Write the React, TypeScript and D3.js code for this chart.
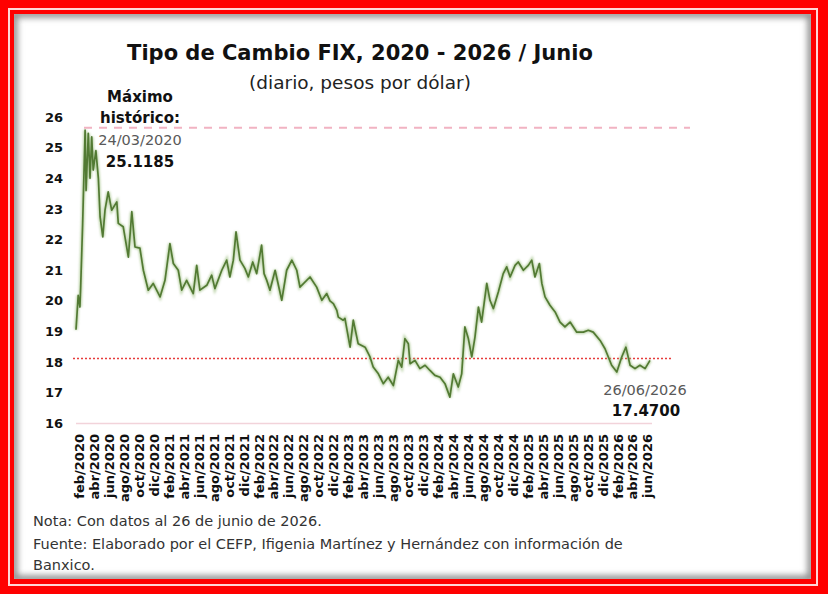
import React from 'react';
import * as d3 from 'd3';

// Tipo de cambio FIX (pesos por dólar), lecturas del gráfico
const fechas = [
  '2020-02-03', '2020-02-12', '2020-02-19', '2020-02-22', '2020-03-01', '2020-03-11', '2020-03-15', '2020-03-24',
  '2020-03-31', '2020-04-07', '2020-04-13', '2020-04-24', '2020-05-04', '2020-05-11', '2020-05-22', '2020-05-31',
  '2020-06-13', '2020-06-27', '2020-07-18', '2020-07-24', '2020-08-13', '2020-09-03', '2020-09-17', '2020-09-30',
  '2020-10-20', '2020-11-03', '2020-11-23', '2020-12-13', '2021-01-10', '2021-01-30', '2021-02-19', '2021-03-05',
  '2021-03-25', '2021-04-08', '2021-04-28', '2021-05-25', '2021-06-08', '2021-06-21', '2021-07-19', '2021-08-08',
  '2021-08-21', '2021-09-18', '2021-10-08', '2021-10-21', '2021-11-04', '2021-11-15', '2021-12-01', '2021-12-21',
  '2022-01-04', '2022-01-22', '2022-02-07', '2022-02-27', '2022-03-09', '2022-03-20', '2022-04-02', '2022-04-23',
  '2022-05-20', '2022-06-09', '2022-06-30', '2022-07-20', '2022-08-02', '2022-09-12', '2022-10-09', '2022-10-30',
  '2022-11-19', '2022-12-02', '2022-12-16', '2022-12-30', '2023-01-05', '2023-01-25', '2023-02-01', '2023-02-22',
  '2023-03-07', '2023-03-27', '2023-04-24', '2023-05-14', '2023-05-27', '2023-06-17', '2023-07-07', '2023-07-27',
  '2023-08-17', '2023-09-06', '2023-09-20', '2023-10-03', '2023-10-17', '2023-10-24', '2023-11-13', '2023-12-03',
  '2023-12-24', '2024-01-13', '2024-02-02', '2024-02-23', '2024-03-14', '2024-04-03', '2024-04-17', '2024-05-07',
  '2024-05-21', '2024-06-03', '2024-06-17', '2024-07-01', '2024-07-14', '2024-07-28', '2024-08-10', '2024-08-31',
  '2024-09-13', '2024-09-27', '2024-10-17', '2024-11-06', '2024-11-20', '2024-12-04', '2024-12-24', '2025-01-06',
  '2025-01-27', '2025-02-16', '2025-03-02', '2025-03-15', '2025-04-02', '2025-04-12', '2025-04-25', '2025-05-15',
  '2025-06-05', '2025-06-25', '2025-07-15', '2025-08-05', '2025-09-01', '2025-09-28', '2025-10-18', '2025-11-07',
  '2025-12-05', '2025-12-25', '2026-01-21', '2026-02-11', '2026-03-03', '2026-03-20', '2026-04-06', '2026-04-26',
  '2026-05-16', '2026-06-06', '2026-06-26',
];

const tipoCambio = [
  19.06, 20.18, 19.8, 20.45, 22.5, 25.57, 23.6, 25.47,
  24.0, 25.35, 24.27, 24.9, 24.0, 22.74, 22.09, 22.96,
  23.56, 22.96, 23.23, 22.53, 22.42, 21.43, 22.91, 21.76,
  21.72, 21.0, 20.35, 20.57, 20.13, 20.67, 21.87, 21.22,
  21.0, 20.35, 20.67, 20.24, 21.16, 20.35, 20.51, 20.84,
  20.4, 21.0, 21.33, 20.78, 21.33, 22.25, 21.33, 21.06,
  20.78, 21.27, 20.89, 21.82, 20.89, 20.67, 20.35, 21.0,
  20.02, 21.0, 21.33, 21.0, 20.45, 20.78, 20.45, 20.02,
  20.24, 20.0, 19.91, 19.69, 19.47, 19.37, 19.43, 18.49,
  19.37, 18.6, 18.49, 18.17, 17.84, 17.62, 17.3, 17.51,
  17.24, 18.06, 17.84, 18.77, 18.6, 17.95, 18.06, 17.79,
  17.9, 17.73, 17.57, 17.51, 17.3, 16.86, 17.62, 17.19,
  17.62, 19.15, 18.77, 18.17, 18.82, 19.8, 19.31, 20.57,
  20.02, 19.75, 20.29, 20.89, 21.11, 20.78, 21.16, 21.27,
  21.0, 21.16, 21.33, 20.78, 21.22, 20.57, 20.13, 19.86,
  19.64, 19.31, 19.15, 19.31, 18.98, 18.98, 19.04, 18.98,
  18.71, 18.44, 17.9, 17.68, 18.17, 18.49, 17.9, 17.79,
  17.9, 17.79, 18.06,
];

const yTicks = [16, 17, 18, 19, 20, 21, 22, 23, 24, 25, 26];
const meses = ['ene', 'feb', 'mar', 'abr', 'may', 'jun', 'jul', 'ago', 'sep', 'oct', 'nov', 'dic'];

const nivelMaximo = 25.65; // línea del máximo histórico, como se ve en la imagen
const nivelActual = 18.12; // línea punteada roja

const W = 828;
const H = 594;
const FONT = "'DejaVu Sans', sans-serif";

export default function App() {
  const parse = d3.timeParse('%Y-%m-%d');
  const data = fechas.map((f, i) => ({ date: parse(f) as Date, value: tipoCambio[i] }));

  const x = d3.scaleTime().domain([new Date(2020, 1, 3), new Date(2026, 5, 26)]).range([76, 650]);
  const y = d3.scaleLinear().domain([16, 26]).range([423.5, 117]);

  const line = d3
    .line<{ date: Date; value: number }>()
    .x(d => x(d.date))
    .y(d => y(d.value));

  const monthTicks = d3.timeMonth.range(new Date(2020, 1, 1), new Date(2026, 6, 1), 2);

  return (
    <svg width={W} height={H} style={{ position: 'absolute', left: 0, top: 0 }} fontFamily={FONT}>
      <defs>
        <filter id="blur3" x="-10%" y="-10%" width="120%" height="120%">
          <feGaussianBlur stdDeviation="3" />
        </filter>
        <filter id="glow" x="-5%" y="-5%" width="110%" height="110%">
          <feGaussianBlur stdDeviation="1.2" />
        </filter>
        <clipPath id="panel">
          <rect x={14} y={14} width={797} height={565} />
        </clipPath>
      </defs>

      {/* marco rojo */}
      <rect x={0} y={0} width={W} height={H} fill="#ff0000" />
      <rect x={9} y={9} width={W - 20} height={H - 18} fill="none" stroke="#ffd6d6" strokeWidth={2} />
      <rect x={14} y={14} width={797} height={565} fill="#ffffff" />
      <g clipPath="url(#panel)">
        <rect x={14} y={14} width={797} height={565} fill="none" stroke="#8a8a8a" strokeWidth={7} filter="url(#blur3)" />
      </g>

      {/* títulos */}
      <text x={360} y={60} textAnchor="middle" fontSize={21} fontWeight="bold" fill="#111">
        Tipo de Cambio FIX, 2020 - 2026 / Junio
      </text>
      <text x={360} y={89} textAnchor="middle" fontSize={18.5} fill="#222">
        (diario, pesos por dólar)
      </text>

      {/* eje y */}
      {yTicks.map(t => (
        <text key={t} x={63} y={y(t)} dy="0.35em" textAnchor="end" fontSize={13} fontWeight="bold" fill="#111">
          {t}
        </text>
      ))}

      {/* línea base */}
      <line x1={76} x2={652} y1={y(16)} y2={y(16)} stroke="#f2d3da" strokeWidth={1.5} />

      {/* máximo histórico */}
      <line x1={84} x2={690} y1={y(nivelMaximo)} y2={y(nivelMaximo)} stroke="#f1b3c2" strokeWidth={2} strokeDasharray="8,7" />
      {/* nivel actual */}
      <line x1={73} x2={672} y1={y(nivelActual)} y2={y(nivelActual)} stroke="#e63c3c" strokeWidth={1.6} strokeDasharray="2,2" />

      {/* serie */}
      <path d={line(data) ?? ''} fill="none" stroke="#8fb56e" strokeWidth={3.5} strokeOpacity={0.6} filter="url(#glow)" />
      <path d={line(data) ?? ''} fill="none" stroke="#527a33" strokeWidth={1.7} strokeLinejoin="round" />

      {/* eje x */}
      {monthTicks.map(d => (
        <text
          key={d.toISOString()}
          transform={`translate(${x(d) + 4},434) rotate(-90)`}
          dy="0.35em"
          textAnchor="end"
          fontSize={13}
          fontWeight="bold"
          fill="#111"
        >
          {`${meses[d.getMonth()]}/${d.getFullYear()}`}
        </text>
      ))}

      {/* anotaciones */}
      <text x={140} y={102} textAnchor="middle" fontSize={15} fontWeight="bold" fill="#111">Máximo</text>
      <text x={140} y={123} textAnchor="middle" fontSize={15} fontWeight="bold" fill="#111">histórico:</text>
      <text x={140} y={145} textAnchor="middle" fontSize={14.5} fill="#595959">24/03/2020</text>
      <text x={140} y={167} textAnchor="middle" fontSize={15} fontWeight="bold" fill="#111">25.1185</text>

      <text x={645} y={395} textAnchor="middle" fontSize={14.5} fill="#595959">26/06/2026</text>
      <text x={646} y={416} textAnchor="middle" fontSize={15} fontWeight="bold" fill="#111">17.4700</text>

      {/* notas */}
      <text x={33} y={526} fontSize={14.5} fill="#333">Nota: Con datos al 26 de junio de 2026.</text>
      <text x={33} y={549} fontSize={14.5} fill="#333">
        Fuente: Elaborado por el CEFP, Ifigenia Martínez y Hernández con información de
      </text>
      <text x={33} y={570} fontSize={14.5} fill="#333">Banxico.</text>
    </svg>
  );
}
